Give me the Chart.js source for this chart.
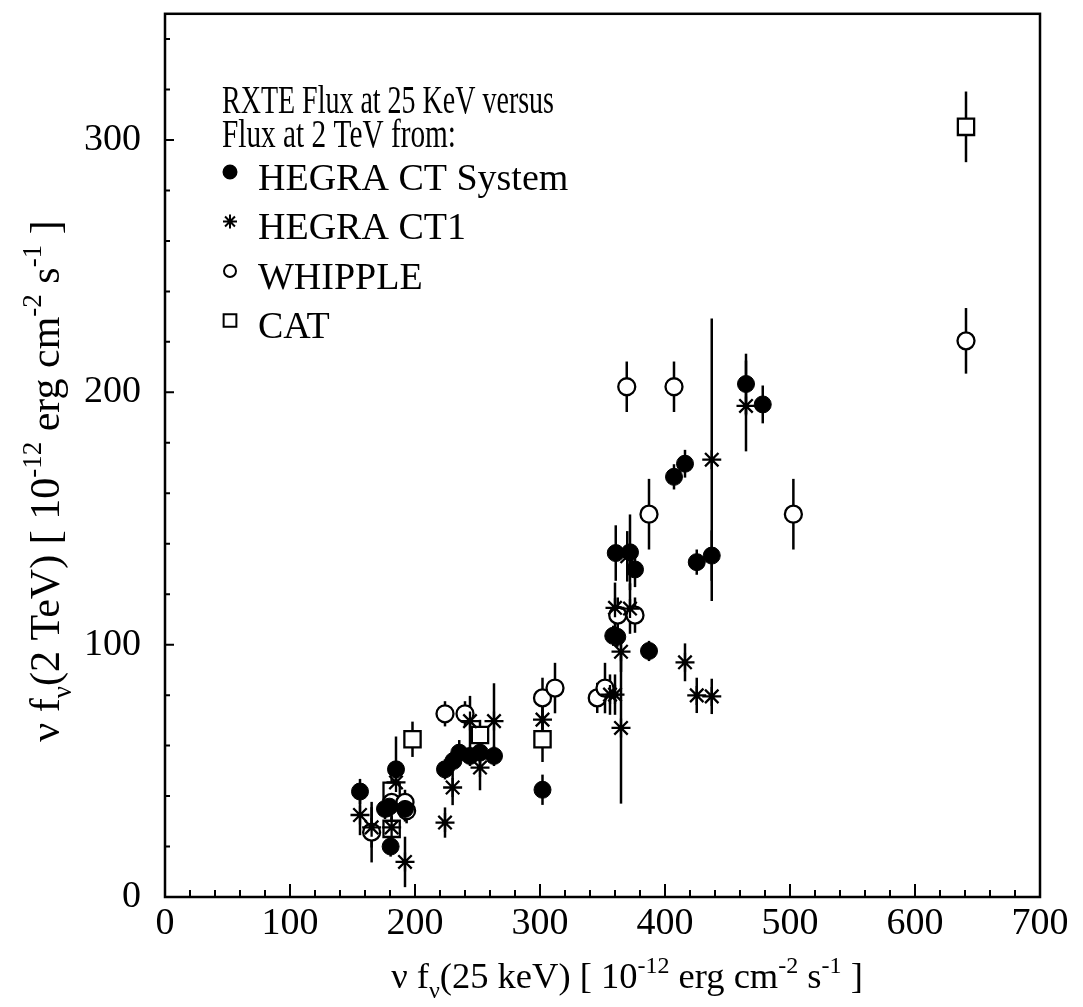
<!DOCTYPE html>
<html>
<head>
<meta charset="utf-8">
<script src="https://cdn.jsdelivr.net/npm/chart.js@4.4.0/dist/chart.umd.min.js"></script>
<style>
  html, body { margin: 0; padding: 0; background: #fff; }
</style>
</head>
<body>
<canvas id="grafico" width="1083" height="1007"></canvas>
<script>
// HEGRA CT System (circulos cheios)
const sysX = [156, 176, 179.5, 184.8, 180.5, 192, 224, 230.7, 235.4, 244, 252, 263.2, 302, 358.6, 361.8, 360.6, 372, 376, 387.2, 407.2, 416, 425.4, 437.4, 464.8, 478.2];
const sysY = [41.8, 34.9, 35.8, 50.6, 20, 34.9, 50.6, 53.9, 57.2, 55.9, 57.2, 55.9, 42.5, 103.5, 103.1, 136.3, 136.6, 129.8, 97.5, 166.5, 171.7, 132.7, 135.3, 203.3, 195.2];
const sysErr = [5, 4, 4, 13, 4, 5, 4, 4, 5, 4, 5, 4, 6, 4, 4, 11, 15, 7, 4, 5, 5.5, 5, 10, 12, 7.5];

// HEGRA CT1 (asteriscos)
const ct1X = [156, 165.3, 181.3, 184.8, 192, 224, 230.1, 244, 252, 263.2, 302, 356, 360, 360, 372, 369.8, 364.8, 364.8, 416, 425.4, 437.4, 437.4, 464.8];
const ct1Y = [32.5, 27.6, 27.6, 45.4, 13.9, 29.5, 43.4, 69.7, 51.3, 69.7, 70.3, 80.2, 80.2, 114.6, 114.3, 135, 97.2, 67, 93, 79.9, 79.5, 173.3, 194.6];
const ct1Err = [8, 8, 6, 8, 10, 6, 7, 10, 9, 15, 8, 8, 8, 10, 10, 10, 8, 30, 7.5, 7, 7, 56, 18];

// WHIPPLE (circulos abertos)
const whipX = [165.3, 181.3, 192, 193.3, 224, 240, 302, 312, 345.8, 352, 362.2, 376, 369.4, 387.2, 407.2, 502.7, 640.8];
const whipY = [25.7, 37.5, 37.5, 34.2, 72.6, 72.6, 78.9, 82.8, 78.9, 82.8, 111.7, 111.7, 202.2, 151.7, 202.2, 151.7, 220.4];
const whipErr = [12, 5, 5, 5, 5, 5, 8, 10, 6, 10, 7, 7, 10, 14, 10, 14, 13];

// CAT (quadrados)
const catX = [181.3, 181.3, 198, 252, 302, 640.8];
const catY = [42.1, 27, 62.5, 64.2, 62.5, 305.2];
const catErr = [5, 5, 7, 6, 9, 14];

// eixos
const xTicks = [0, 100, 200, 300, 400, 500, 600, 700];
const yTicks = [0, 100, 200, 300];
const tituloLegenda = ['RXTE Flux at 25 KeV versus', 'Flux at 2 TeV from:'];

const FONTE = '"Liberation Serif", "DejaVu Serif", serif';

function pontos(xs, ys) {
  return xs.map((x, i) => ({ x: x, y: ys[i] }));
}

// barras de erro verticais, sem "caps"
const barrasErro = {
  id: 'barrasErro',
  beforeDatasetsDraw(chart) {
    const ctx = chart.ctx, sx = chart.scales.x, sy = chart.scales.y;
    ctx.save();
    ctx.strokeStyle = '#000';
    ctx.lineWidth = 2.5;
    chart.data.datasets.forEach(ds => {
      ds.data.forEach((p, i) => {
        const px = sx.getPixelForValue(p.x);
        ctx.beginPath();
        ctx.moveTo(px, sy.getPixelForValue(p.y - ds.erros[i]));
        ctx.lineTo(px, sy.getPixelForValue(p.y + ds.erros[i]));
        ctx.stroke();
      });
    });
    ctx.restore();
  }
};

// texto com sub/sobrescritos
function larguraRico(ctx, partes, tam) {
  let w = 0;
  partes.forEach(([t, tipo]) => {
    ctx.font = (tipo === 'n' ? tam : Math.round(tam * 0.65)) + 'px ' + FONTE;
    w += ctx.measureText(t).width;
  });
  return w;
}
function desenhaRico(ctx, partes, tam, cx, base) {
  const w = larguraRico(ctx, partes, tam);
  let x = cx - w / 2;
  partes.forEach(([t, tipo]) => {
    const pequeno = tipo !== 'n';
    ctx.font = (pequeno ? Math.round(tam * 0.65) : tam) + 'px ' + FONTE;
    let dy = 0;
    if (tipo === 'sup') dy = -tam * 0.42;
    if (tipo === 'sub') dy = tam * 0.28;
    ctx.fillText(t, x, base + dy);
    x += ctx.measureText(t).width;
  });
}

const rotuloX = [['\u03BD f', 'n'], ['\u03BD', 'sub'], ['(25 keV) [ 10', 'n'], ['-12', 'sup'], [' erg cm', 'n'], ['-2', 'sup'], [' s', 'n'], ['-1', 'sup'], [' ]', 'n']];
const rotuloY = [['\u03BD f', 'n'], ['\u03BD', 'sub'], ['(2 TeV) [ 10', 'n'], ['-12', 'sup'], [' erg cm', 'n'], ['-2', 'sup'], [' s', 'n'], ['-1', 'sup'], [' ]', 'n']];

// moldura, tracinhos para dentro, titulos e legenda
const moldura = {
  id: 'moldura',
  afterDraw(chart) {
    const ctx = chart.ctx, a = chart.chartArea, sx = chart.scales.x, sy = chart.scales.y;
    ctx.save();
    ctx.strokeStyle = '#000';
    ctx.lineWidth = 2.5;
    ctx.strokeRect(a.left, a.top, a.right - a.left, a.bottom - a.top);

    ctx.lineWidth = 2;
    ctx.beginPath();
    for (let v = 20; v < sx.max; v += 20) {
      const px = sx.getPixelForValue(v);
      ctx.moveTo(px, a.bottom);
      ctx.lineTo(px, a.bottom - (v % 100 === 0 ? 13 : 7));
    }
    for (let v = 20; v < sy.max; v += 20) {
      const py = sy.getPixelForValue(v);
      ctx.moveTo(a.left, py);
      ctx.lineTo(a.left + (v % 100 === 0 ? 9 : 5), py);
    }
    ctx.stroke();

    // titulos dos eixos
    ctx.fillStyle = '#000';
    ctx.textBaseline = 'alphabetic';
    ctx.textAlign = 'left';
    desenhaRico(ctx, rotuloX, 36.5, 627, 988);
    ctx.save();
    ctx.translate(59, 481);
    ctx.rotate(-Math.PI / 2);
    desenhaRico(ctx, rotuloY, 42, 0, 0);
    ctx.restore();

    // legenda dentro do grafico
    ctx.font = '40px ' + FONTE;
    ctx.fillText(tituloLegenda[0], 222, 113, 332);
    ctx.fillText(tituloLegenda[1], 222, 147, 234);

    ctx.font = '38px ' + FONTE;
    chart.data.datasets.forEach((ds, i) => {
      const yc = 177 + i * 49.5;
      ctx.fillStyle = '#000';
      ctx.fillText(ds.label, 258, yc + 12.5);
      ctx.fillStyle = ds.backgroundColor;
      ctx.strokeStyle = '#000';
      ctx.lineWidth = 2;
      Chart.helpers.drawPoint(ctx, {
        pointStyle: ds.pointStyle,
        radius: ds.legendRadius,
        rotation: 0,
        borderWidth: 2
      }, 230, yc - 5);
    });
    ctx.restore();
  }
};

new Chart(document.getElementById('grafico'), {
  type: 'scatter',
  data: {
    datasets: [
      {
        label: 'HEGRA CT System',
        data: pontos(sysX, sysY),
        erros: sysErr,
        pointStyle: 'circle',
        pointRadius: 8.5,
        legendRadius: 6.5,
        backgroundColor: '#000',
        borderColor: '#000',
        borderWidth: 1
      },
      {
        label: 'HEGRA CT1',
        data: pontos(ct1X, ct1Y),
        erros: ct1Err,
        pointStyle: 'star',
        pointRadius: 9.5,
        legendRadius: 7,
        backgroundColor: '#000',
        borderColor: '#000',
        borderWidth: 2.3
      },
      {
        label: 'WHIPPLE',
        data: pontos(whipX, whipY),
        erros: whipErr,
        pointStyle: 'circle',
        pointRadius: 8.5,
        legendRadius: 6,
        backgroundColor: '#fff',
        borderColor: '#000',
        borderWidth: 2.3
      },
      {
        label: 'CAT',
        data: pontos(catX, catY),
        erros: catErr,
        pointStyle: 'rect',
        pointRadius: 11.5,
        legendRadius: 9,
        backgroundColor: '#fff',
        borderColor: '#000',
        borderWidth: 2.3
      }
    ]
  },
  options: {
    responsive: false,
    animation: false,
    devicePixelRatio: 1,
    layout: { padding: { top: 7, right: 43, left: 0, bottom: 0 } },
    plugins: {
      legend: { display: false },
      tooltip: { enabled: false }
    },
    scales: {
      x: {
        type: 'linear',
        min: 0,
        max: 700,
        afterBuildTicks: s => { s.ticks = xTicks.map(v => ({ value: v })); },
        afterFit: s => { s.height = 110; s.paddingLeft = 0; s.paddingRight = 0; },
        grid: { display: false, drawTicks: false },
        border: { display: false },
        ticks: {
          color: '#000',
          font: { family: FONTE, size: 38 },
          padding: 4,
          maxRotation: 0,
          autoSkip: false
        }
      },
      y: {
        type: 'linear',
        min: 0,
        max: 350,
        afterBuildTicks: s => { s.ticks = yTicks.map(v => ({ value: v })); },
        afterFit: s => { s.width = 165; s.paddingTop = 0; s.paddingBottom = 0; },
        grid: { display: false, drawTicks: false },
        border: { display: false },
        ticks: {
          color: '#000',
          font: { family: FONTE, size: 38 },
          padding: 24,
          autoSkip: false
        }
      }
    }
  },
  plugins: [barrasErro, moldura]
});
</script>
</body>
</html>
